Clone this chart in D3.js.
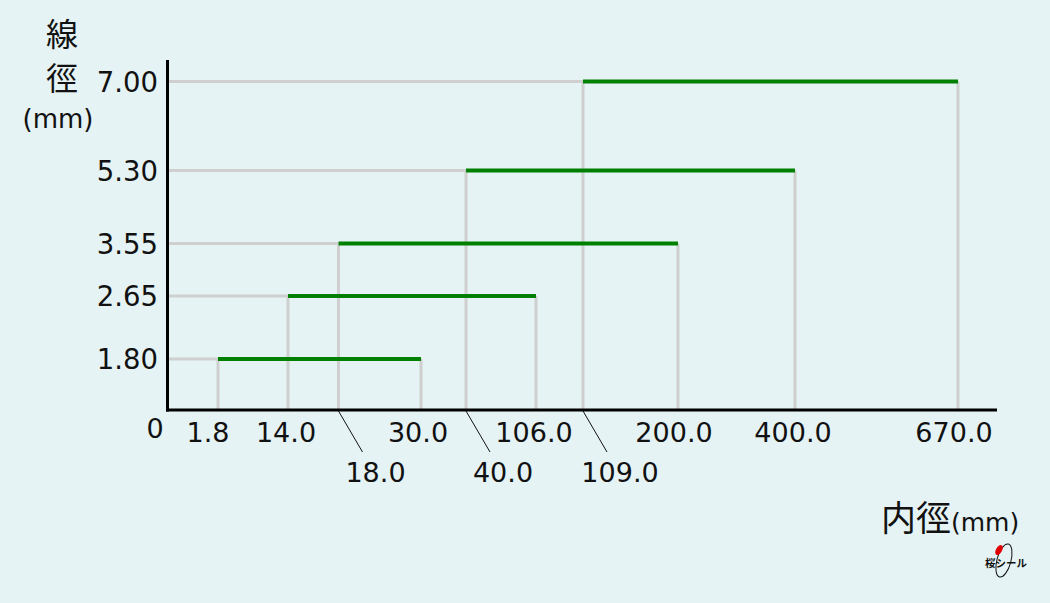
<!DOCTYPE html>
<html><head><meta charset="utf-8">
<script src="https://cdn.jsdelivr.net/npm/d3@7"></script>
<style>
html,body{margin:0;padding:0;background:#e5f3f4;}
svg{display:block;}
</style></head>
<body>
<svg id="chart" width="1050" height="603"></svg>
<script>
// ---- data ----
const wireDiameters = [1.80, 2.65, 3.55, 5.30, 7.00];
const yTickLabels = ["1.80", "2.65", "3.55", "5.30", "7.00"];
const innerMin = [1.8, 14.0, 18.0, 40.0, 109.0];
const innerMax = [30.0, 106.0, 200.0, 400.0, 670.0];
const xTickValues = [1.8, 14.0, 18.0, 30.0, 40.0, 106.0, 109.0, 200.0, 400.0, 670.0];
const xTickLabels = ["1.8", "14.0", "18.0", "30.0", "40.0", "106.0", "109.0", "200.0", "400.0", "670.0"];
const xTickLowRow = [false, false, true, false, true, false, true, false, false, false];

// ---- layout ----
const axisX = 167.5, axisY = 410, axisTop = 60, axisRight = 997;
const yRange = [axisY, 359, 296, 243.5, 170.5, 81.5];
const xRange = [218, 288, 338.5, 421, 466, 536, 583, 678, 795, 958];
const xLabelShift = [-10, -2, 37, -3, 37, -2, 37, -4, -2, -4];

const y = d3.scaleLinear().domain([0, ...wireDiameters]).range(yRange);
const x = d3.scaleLinear().domain(xTickValues).range(xRange);

const svg = d3.select("#chart");
const font = "'DejaVu Sans', Verdana, sans-serif";
const cjk = "'Noto Sans CJK JP', 'Noto Sans CJK SC', sans-serif";
const grey = "#cfcfcf";

svg.append("rect").attr("width", 1050).attr("height", 603).attr("fill", "#e5f3f4");

const rows = wireDiameters.map((d, i) => ({d, lo: innerMin[i], hi: innerMax[i], label: yTickLabels[i]}));

// horizontal gray guides from axis to start of bar
svg.append("g").selectAll("line").data(rows).join("line")
  .attr("x1", axisX).attr("x2", r => x(r.lo))
  .attr("y1", r => y(r.d)).attr("y2", r => y(r.d))
  .attr("stroke", grey).attr("stroke-width", 3);

// vertical gray guides from bar ends down to axis
const verts = [];
rows.forEach(r => { verts.push({v: r.lo, d: r.d}); verts.push({v: r.hi, d: r.d}); });
svg.append("g").selectAll("line").data(verts).join("line")
  .attr("x1", v => x(v.v)).attr("x2", v => x(v.v))
  .attr("y1", v => y(v.d)).attr("y2", axisY)
  .attr("stroke", grey).attr("stroke-width", 3);

// green range bars
svg.append("g").selectAll("line").data(rows).join("line")
  .attr("x1", r => x(r.lo)).attr("x2", r => x(r.hi))
  .attr("y1", r => y(r.d)).attr("y2", r => y(r.d))
  .attr("stroke", "#008000").attr("stroke-width", 4);

// axes
svg.append("line").attr("x1", axisX).attr("x2", axisX).attr("y1", axisTop).attr("y2", axisY + 1.5)
  .attr("stroke", "#000").attr("stroke-width", 3);
svg.append("line").attr("x1", axisX - 1.5).attr("x2", axisRight).attr("y1", axisY).attr("y2", axisY)
  .attr("stroke", "#000").attr("stroke-width", 3);

// y tick labels
svg.append("g").selectAll("text").data(rows).join("text")
  .attr("x", 158).attr("y", r => y(r.d) + 10)
  .attr("text-anchor", "end").attr("font-family", font).attr("font-size", 27.5).attr("fill", "#111")
  .text(r => r.label);

// origin label
svg.append("text").attr("x", 155).attr("y", 438).attr("text-anchor", "middle")
  .attr("font-family", font).attr("font-size", 27).attr("fill", "#111").text("0");

// x tick labels
const xt = xTickValues.map((v, i) => ({v, label: xTickLabels[i], low: xTickLowRow[i], shift: xLabelShift[i]}));
const g = svg.append("g");
g.selectAll("text").data(xt).join("text")
  .attr("x", t => x(t.v) + t.shift)
  .attr("y", t => t.low ? 482 : 442)
  .attr("text-anchor", "middle").attr("font-family", font).attr("font-size", 27).attr("fill", "#111")
  .text(t => t.label);
g.selectAll("line").data(xt.filter(t => t.low)).join("line")
  .attr("x1", t => x(t.v)).attr("y1", axisY + 1)
  .attr("x2", t => x(t.v) + 24).attr("y2", 452)
  .attr("stroke", "#111").attr("stroke-width", 1);

// y axis title
svg.append("text").attr("x", 62).attr("y", 46).attr("text-anchor", "middle")
  .attr("font-family", cjk).attr("font-size", 32).attr("fill", "#111").text("線");
svg.append("text").attr("x", 62).attr("y", 90).attr("text-anchor", "middle")
  .attr("font-family", cjk).attr("font-size", 32).attr("fill", "#111").text("徑");
svg.append("text").attr("x", 58).attr("y", 128).attr("text-anchor", "middle")
  .attr("font-family", font).attr("font-size", 26).attr("fill", "#111").text("(mm)");

// x axis title
const xt2 = svg.append("text").attr("x", 881).attr("y", 531).attr("fill", "#111");
xt2.append("tspan").attr("font-family", cjk).attr("font-size", 35).text("内徑");
xt2.append("tspan").attr("font-family", font).attr("font-size", 25).text("(mm)");

// logo
const logo = svg.append("g").attr("transform", "translate(1002,560)");
logo.append("ellipse").attr("cx", 2).attr("cy", 0).attr("rx", 7).attr("ry", 17)
  .attr("fill", "none").attr("stroke", "#111").attr("stroke-width", 1).attr("transform", "rotate(15)");
logo.append("ellipse").attr("cx", -3).attr("cy", -10).attr("rx", 3).attr("ry", 5.5)
  .attr("fill", "#e00000").attr("transform", "rotate(30,-3,-10)");
logo.append("text").attr("x", 4).attr("y", 7).attr("text-anchor", "middle")
  .attr("font-family", cjk).attr("font-weight", "bold").attr("font-size", 10.5).attr("fill", "#111").text("桜シール");
</script>
</body></html>
